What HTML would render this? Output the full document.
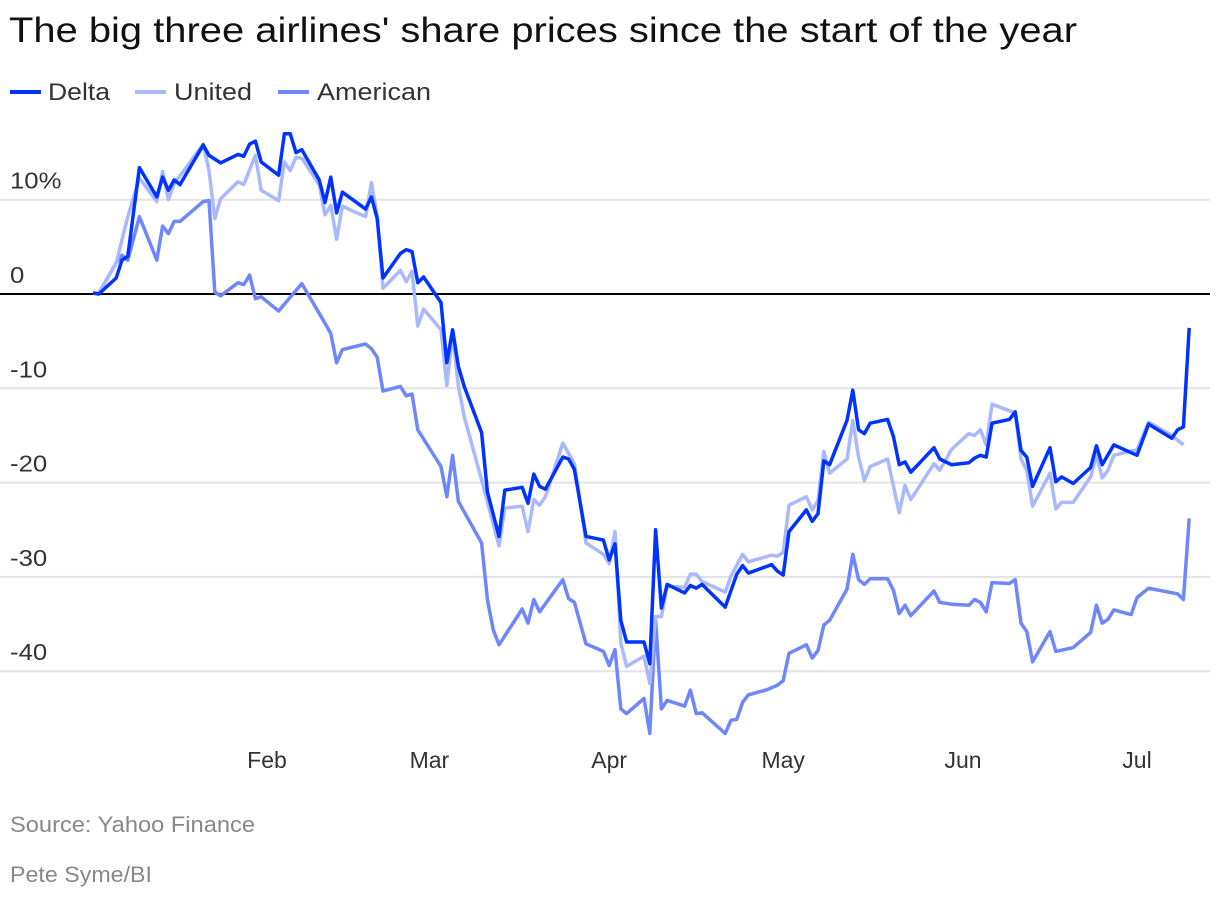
<!DOCTYPE html>
<html><head><meta charset="utf-8">
<style>
body{margin:0;background:#fff;width:1220px;height:898px;overflow:hidden;font-family:"Liberation Sans",sans-serif;}
</style></head>
<body>
<svg id="chart" width="1220" height="898" xmlns="http://www.w3.org/2000/svg" font-family="Liberation Sans, sans-serif">
<text x="9" y="42" font-size="35" fill="#111" textLength="1068" lengthAdjust="spacingAndGlyphs">The big three airlines' share prices since the start of the year</text>
<g>
<g><line x1="10" y1="92" x2="41" y2="92" stroke="#0033ff" stroke-width="4"/><text x="48" y="100" font-size="24" fill="#333" textLength="62" lengthAdjust="spacingAndGlyphs">Delta</text></g>
<g><line x1="135" y1="92" x2="166" y2="92" stroke="#aab8fd" stroke-width="4"/><text x="174" y="100" font-size="24" fill="#333" textLength="78" lengthAdjust="spacingAndGlyphs">United</text></g>
<g><line x1="278" y1="92" x2="309" y2="92" stroke="#6e87fc" stroke-width="4"/><text x="317" y="100" font-size="24" fill="#333" textLength="114" lengthAdjust="spacingAndGlyphs">American</text></g>
</g>
<g id="grid"></g>
<g id="series"></g>
<g id="xaxis"></g>
<text x="10" y="832" font-size="22" fill="#888" textLength="245" lengthAdjust="spacingAndGlyphs">Source: Yahoo Finance</text>
<text x="10" y="882" font-size="22" fill="#888" textLength="142" lengthAdjust="spacingAndGlyphs">Pete Syme/BI</text>
</svg>
<script>
const yTicks=[10,0,-10,-20,-30,-40];
const yTickLabels=["10%","0","-10","-20","-30","-40"];
const months=["Feb","Mar","Apr","May","Jun","Jul"];
const monthDays=[31,59,90,120,151,181];
const deltaDays=[1,2,5,6,7,9,12,13,14,15,16,20,21,23,26,27,28,29,30,33,34,35,36,37,40,41,42,43,44,48,49,50,51,54,55,56,57,58,61,62,63,64,65,68,69,71,72,75,76,77,78,79,82,83,84,86,89,90,91,92,93,96,97,98,99,100,103,104,105,106,110,112,113,114,118,119,120,121,124,125,126,127,128,131,132,133,134,135,138,139,140,141,142,146,147,149,152,153,154,155,156,159,160,161,162,163,166,167,168,170,173,174,175,177,181,183,187,188,189,190];
const deltaVals=[0.1,0,1.7,3.6,4.0,13.4,10.3,12.4,11.0,12.1,11.6,15.8,14.7,13.9,14.8,14.6,15.9,16.2,14.0,12.6,17.0,17.0,15.0,15.3,12.1,9.7,12.4,8.6,10.8,9.0,10.3,8.0,1.7,4.3,4.7,4.5,1.2,1.8,-0.9,-7.3,-3.8,-7.7,-9.8,-14.7,-21.0,-25.7,-20.8,-20.5,-22.2,-19.1,-20.4,-20.7,-17.3,-17.5,-18.6,-25.7,-26.1,-28.2,-26.5,-34.6,-36.9,-36.9,-39.2,-25.0,-33.3,-30.8,-31.7,-30.9,-31.2,-30.8,-33.2,-29.7,-28.8,-29.6,-28.7,-29.4,-29.8,-25.2,-22.9,-24.1,-23.3,-17.7,-18.1,-13.4,-10.2,-14.4,-14.8,-13.7,-13.3,-15.1,-18.1,-17.8,-18.9,-16.3,-17.5,-18.1,-17.9,-17.4,-17.1,-17.3,-13.7,-13.3,-12.5,-16.6,-17.3,-20.4,-16.3,-19.9,-19.4,-20.1,-18.4,-16.1,-18.1,-16.0,-17.1,-13.8,-15.3,-14.4,-14.1,-3.6];
const unitedDays=[1,2,5,7,9,12,13,14,15,20,21,22,23,26,27,29,30,33,34,35,36,37,40,41,42,43,44,48,49,50,51,54,55,56,57,58,61,62,63,64,65,68,71,72,75,76,77,78,79,82,84,86,89,90,91,92,93,96,97,98,99,100,103,104,105,106,110,111,113,114,118,119,120,121,124,125,126,127,128,131,132,133,134,135,138,140,141,142,146,147,149,152,153,154,155,156,160,161,162,163,166,167,168,170,173,174,175,176,177,181,183,187,189];
const unitedVals=[0.1,0.1,3.3,8.2,12.3,9.8,13.0,10.0,11.7,15.9,13.1,8.0,10.1,11.9,11.6,14.7,11.0,9.9,14.0,13.1,14.5,14.4,11.6,8.4,9.4,5.8,9.3,8.2,11.8,8.2,0.6,2.5,1.3,2.4,-3.4,-1.6,-3.8,-9.7,-4.2,-9.8,-13.0,-19.7,-26.7,-22.7,-22.5,-25.2,-21.8,-22.4,-21.5,-15.8,-18.0,-26.4,-27.6,-28.6,-25.2,-37.0,-39.5,-38.4,-41.3,-34.2,-34.2,-31.0,-31.1,-29.7,-29.7,-30.5,-31.6,-29.9,-27.6,-28.4,-27.7,-27.8,-27.4,-22.4,-21.5,-22.9,-21.9,-16.7,-19.0,-17.5,-13.4,-17.3,-19.8,-18.3,-17.5,-23.2,-20.3,-21.8,-18.0,-18.7,-16.5,-14.8,-15.0,-14.4,-16.0,-11.7,-12.6,-17.5,-18.7,-22.5,-19.0,-22.8,-22.1,-22.1,-19.4,-17.1,-19.5,-18.7,-17.1,-16.5,-13.6,-15.0,-16.0];
const americanDays=[1,2,5,6,7,9,12,13,14,15,16,20,21,22,23,26,27,28,29,30,33,37,41,42,43,44,48,49,50,51,54,55,56,57,61,62,63,64,68,69,70,71,75,76,77,78,82,83,84,86,89,90,91,92,93,96,97,98,99,100,103,104,105,106,110,111,112,113,114,117,119,120,121,124,125,126,127,128,131,132,133,134,135,138,139,140,141,142,146,147,149,152,153,154,155,156,159,160,161,162,163,166,167,170,173,174,175,176,177,180,181,183,188,189,190];
const americanVals=[0.1,0.1,3.3,4.1,3.6,8.2,3.6,7.2,6.4,7.7,7.7,9.8,9.9,0.2,-0.2,1.2,1.0,2.0,-0.5,-0.3,-1.8,1.1,-3.1,-4.2,-7.3,-5.9,-5.3,-5.8,-6.7,-10.3,-9.8,-10.8,-10.6,-14.4,-18.3,-21.5,-17.1,-22.0,-26.4,-32.4,-35.6,-37.2,-33.4,-34.9,-32.4,-33.7,-30.3,-32.3,-32.7,-37.1,-37.9,-39.4,-37.7,-44.0,-44.5,-42.9,-46.6,-34.6,-44.0,-43.1,-43.7,-42.0,-44.5,-44.4,-46.6,-45.2,-45.1,-43.3,-42.5,-42.0,-41.5,-41.0,-38.1,-37.2,-38.6,-37.8,-35.1,-34.6,-31.3,-27.6,-30.3,-30.8,-30.2,-30.2,-31.4,-33.9,-33.0,-34.1,-31.5,-32.7,-32.9,-33.0,-32.4,-32.7,-33.7,-30.6,-30.7,-30.3,-34.9,-35.8,-39.0,-35.8,-37.9,-37.5,-35.9,-33.0,-34.9,-34.5,-33.5,-34.0,-32.2,-31.2,-31.8,-32.4,-23.8];

const NS="http://www.w3.org/2000/svg";
function xScale(d){return 93+(d-1)*5.8;}
function yScale(v){return 294-v*9.43;}
const grid=document.getElementById('grid');
yTicks.forEach((t,i)=>{
  const ln=document.createElementNS(NS,'line');
  
  
  ln.setAttribute('x1',0);ln.setAttribute('x2',1210);
  ln.setAttribute('y1',yScale(t));ln.setAttribute('y2',yScale(t));
  ln.setAttribute('stroke',t===0?'#000':'#e3e3e3');ln.setAttribute('stroke-width',2);
  grid.appendChild(ln);
  const tx=document.createElementNS(NS,'text');
  
  
  tx.setAttribute('x',10);tx.setAttribute('y',yScale(t)-11);
  tx.setAttribute('font-size',23);tx.setAttribute('fill','#333');
  tx.setAttribute('transform','translate(10 0) scale(1.12 1) translate(-10 0)');
  tx.textContent=yTickLabels[i];
  grid.appendChild(tx);
});
const xa=document.getElementById('xaxis');
months.forEach((m,i)=>{
  const tx=document.createElementNS(NS,'text');
  
  
  tx.setAttribute('x',xScale(monthDays[i]));tx.setAttribute('y',768);
  tx.setAttribute('text-anchor','middle');
  tx.setAttribute('font-size',23);tx.setAttribute('fill','#333');
  tx.textContent=m;
  xa.appendChild(tx);
});
const ser=document.getElementById('series');
function draw(days,vals,color,name){
  const p=document.createElementNS(NS,'path');
  
  
  p.setAttribute('d',days.map((d,i)=>(i?'L':'M')+xScale(d).toFixed(1)+' '+yScale(vals[i]).toFixed(1)).join(' '));
  p.setAttribute('fill','none');p.setAttribute('stroke',color);
  p.setAttribute('stroke-width',3.5);p.setAttribute('stroke-linejoin','round');
  ser.appendChild(p);
}
draw(americanDays,americanVals,'#6e87fc','american-line');
draw(unitedDays,unitedVals,'#aab8fd','united-line');
draw(deltaDays,deltaVals,'#0033ff','delta-line');
</script>
</body></html>
